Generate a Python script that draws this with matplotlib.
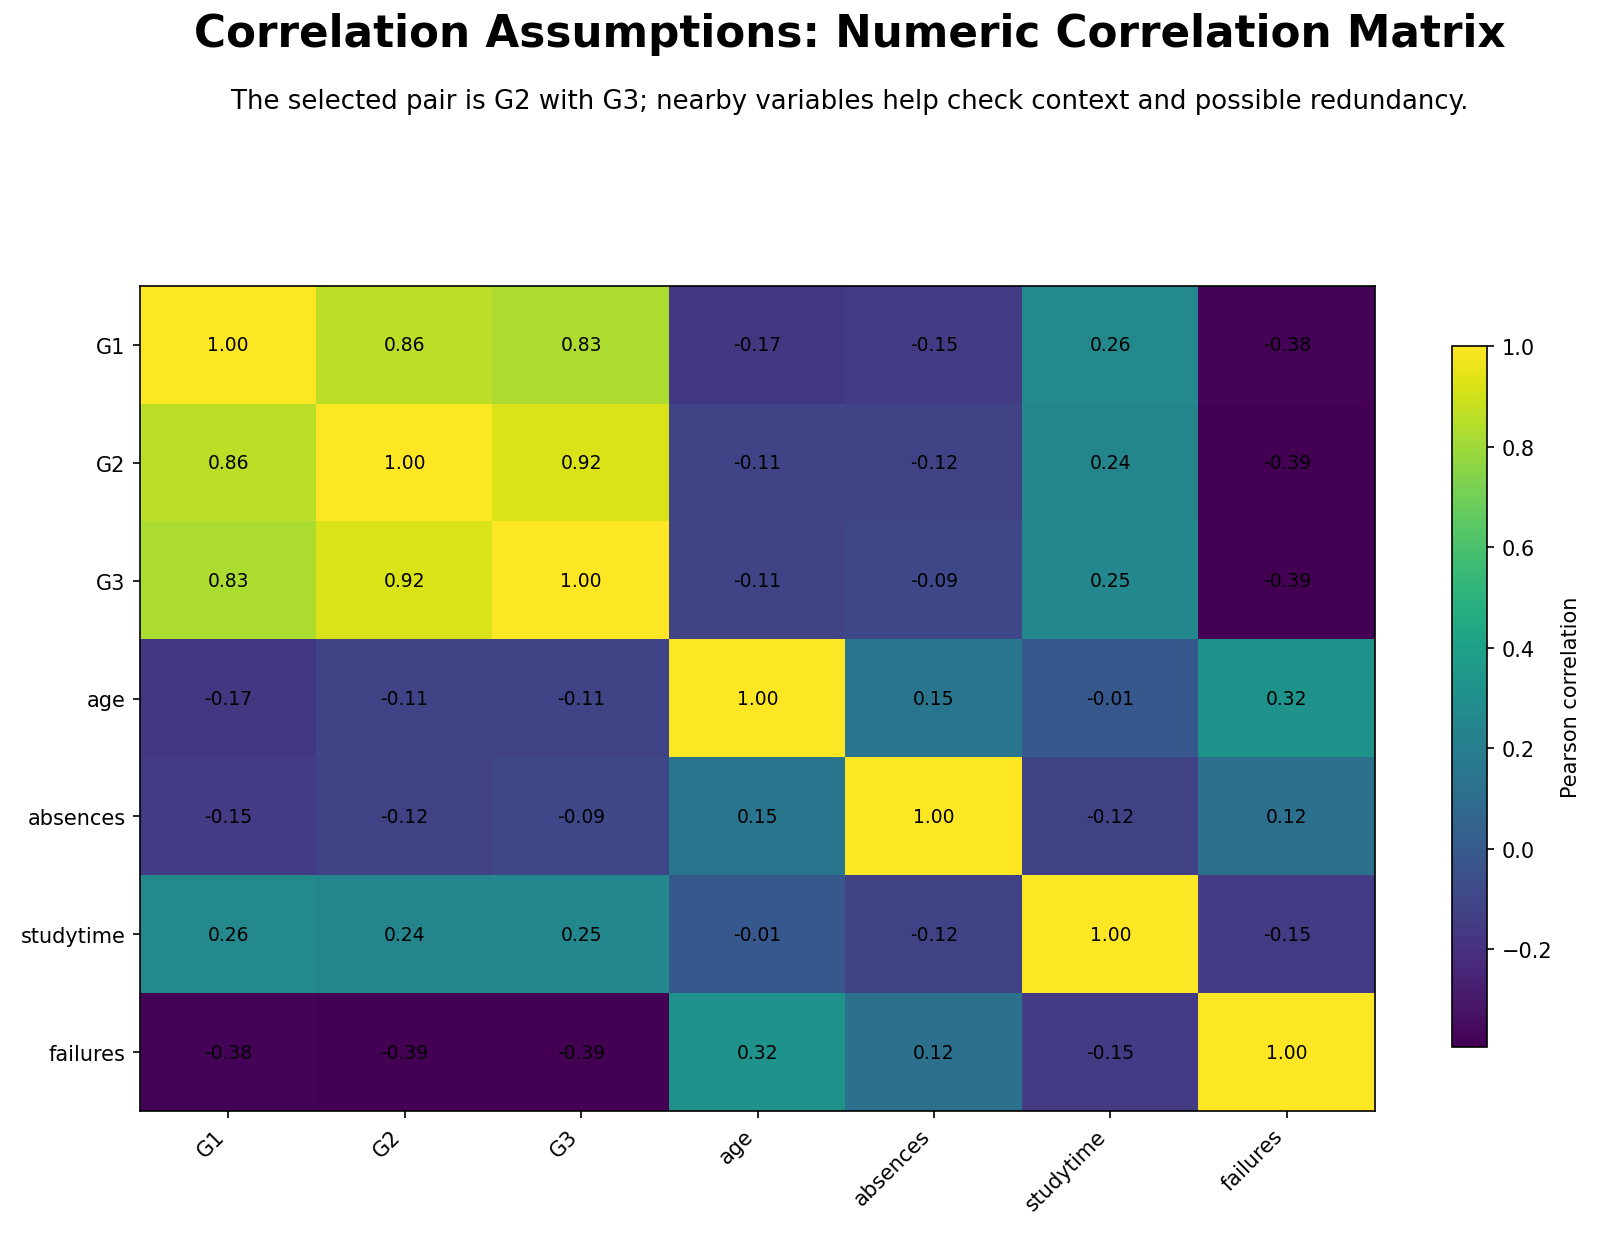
import numpy as np
import matplotlib
matplotlib.use("Agg")
import matplotlib.pyplot as plt

# Variables and correlation values
variables = ["G1", "G2", "G3", "age", "absences", "studytime", "failures"]
row_G1 = [1.00, 0.86, 0.83, -0.17, -0.15, 0.26, -0.38]
row_G2 = [0.86, 1.00, 0.92, -0.11, -0.12, 0.24, -0.39]
row_G3 = [0.83, 0.92, 1.00, -0.11, -0.09, 0.25, -0.39]
row_age = [-0.17, -0.11, -0.11, 1.00, 0.15, -0.01, 0.32]
row_absences = [-0.15, -0.12, -0.09, 0.15, 1.00, -0.12, 0.12]
row_studytime = [0.26, 0.24, 0.25, -0.01, -0.12, 1.00, -0.15]
row_failures = [-0.38, -0.39, -0.39, 0.32, 0.12, -0.15, 1.00]

TITLE = "Correlation Assumptions: Numeric Correlation Matrix"
SUBTITLE = ("The selected pair is G2 with G3; nearby variables help check "
            "context and possible redundancy.")


def main():
    corr = np.array([row_G1, row_G2, row_G3, row_age,
                     row_absences, row_studytime, row_failures])
    W, H, dpi = 1600, 1235, 150
    fig = plt.figure(figsize=(W / dpi, H / dpi), dpi=dpi)

    ax = fig.add_axes([140 / W, 1 - 1112 / H, (1375 - 140) / W, (1112 - 287) / H])
    cax = fig.add_axes([1452 / W, 1 - 1048 / H, (1487 - 1452) / W, (1048 - 347) / H])

    im = ax.imshow(corr, cmap="viridis", aspect="auto",
                   vmin=corr.min() - 0.004, vmax=1.0)
    n = len(variables)
    ax.set_xticks(range(n))
    ax.set_yticks(range(n))
    ax.set_xticklabels(variables, rotation=45, ha="right")
    ax.set_yticklabels(variables)

    for i in range(n):
        for j in range(n):
            ax.text(j, i, f"{corr[i, j]:.2f}", ha="center", va="center",
                    color="black", fontsize=9)

    cb = fig.colorbar(im, cax=cax)
    cb.set_label("Pearson correlation")

    fig.text(0.531, 1 - 34 / H, TITLE, ha="center", va="center",
             fontsize=21, fontweight="bold")
    fig.text(0.531, 1 - 102 / H, SUBTITLE, ha="center", va="center",
             fontsize=12.5)

    fig.savefig("out.png", dpi=dpi)


if __name__ == "__main__":
    main()
